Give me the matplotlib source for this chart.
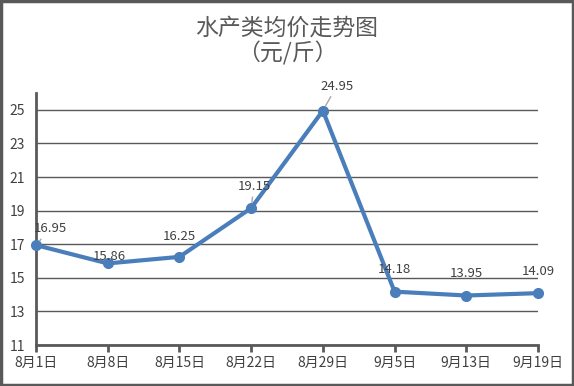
import matplotlib
matplotlib.use('Agg')
import matplotlib.pyplot as plt
from matplotlib.patches import Rectangle

plt.rcParams['font.family'] = ['Noto Sans CJK SC', 'DejaVu Sans']

dates = ['8月1日', '8月8日', '8月15日', '8月22日', '8月29日', '9月5日', '9月13日', '9月19日']
prices = [16.95, 15.86, 16.25, 19.15, 24.95, 14.18, 13.95, 14.09]
yticks = [11, 13, 15, 17, 19, 21, 23, 25]
# label offsets in points (dx, dy) and whether a leader line is drawn
label_offsets = [(10, 7), (1, 0), (0, 10), (2, 11), (10, 13), (0, 11), (0, 11), (0, 11)]
leaders = [True, False, False, True, True, False, False, False]

grey = '#595959'
blue = '#4A7EBB'

fig = plt.figure(figsize=(5.74, 3.86), dpi=100)
ax = fig.add_axes([0.0627, 0.106, 0.8746, 0.653])

x = list(range(len(dates)))
ax.plot(x, prices, color=blue, linewidth=3, marker='o', markersize=7,
        markerfacecolor=blue, markeredgecolor=blue, zorder=5, clip_on=False)

for i, (xi, v) in enumerate(zip(x, prices)):
    dx, dy = label_offsets[i]
    arrow = dict(arrowstyle='-', color='#A6A6A6', lw=1, shrinkA=1, shrinkB=4) if leaders[i] else None
    ax.annotate(f'{v:.2f}', xy=(xi, v), xytext=(dx, dy), textcoords='offset points',
                ha='center', va='bottom', fontsize=9.5, color='#404040',
                arrowprops=arrow, zorder=6)

ax.set_xlim(0, len(dates) - 1)
ax.set_ylim(11, 26)
ax.set_yticks(yticks)
ax.set_xticks(x)
ax.set_xticklabels(dates)
ax.grid(axis='y', color=grey, linewidth=1)
ax.set_axisbelow(True)
for s in ['top', 'right']:
    ax.spines[s].set_visible(False)
for s in ['left', 'bottom']:
    ax.spines[s].set_color(grey)
    ax.spines[s].set_linewidth(2)
ax.tick_params(axis='y', length=0, labelsize=10, labelcolor='#404040', pad=8)
ax.tick_params(axis='x', length=5, width=2, color=grey, labelsize=10,
               labelcolor='#404040', direction='out', pad=3)

fig.text(0.5, 0.926, '水产类均价走势图', ha='center', va='center',
         fontsize=16.5, color=grey, fontweight='medium')
fig.text(0.5, 0.861, '（元/斤）', ha='center', va='center',
         fontsize=16.5, color=grey, fontweight='medium')

fig.patches.append(Rectangle((0.002, 0.003), 0.996, 0.994, transform=fig.transFigure,
                             fill=False, edgecolor=grey, linewidth=2.5))

fig.savefig('out.png', dpi=100)
